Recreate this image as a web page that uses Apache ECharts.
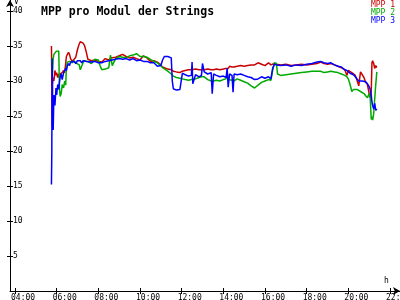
<!DOCTYPE html>
<html>
<head>
<meta charset="utf-8">
<script src="https://cdn.jsdelivr.net/npm/echarts@6/dist/echarts.min.js"></script>
<style>
html,body{margin:0;padding:0;background:#fff;overflow:hidden;}
#c{width:400px;height:300px;}
</style>
</head>
<body>
<div id="c"></div>
<script>
// ---- data ----
var times = [
"05:45","05:46","05:47","05:48","05:50","05:52","05:55","05:58","06:00","06:03","06:06","06:08","06:10","06:13","06:16","06:20","06:23","06:26","06:28","06:31","06:34","06:37","06:40","06:45","06:50","06:55","07:00","07:05","07:08","07:12","07:16","07:20","07:25","07:30",
"07:40","07:50","08:00","08:05","08:10","08:20","08:30","08:35","08:40","08:50","09:00","09:10","09:20","09:30","09:40","09:50","10:00","10:10","10:15","10:20","10:30","10:40","10:50","11:00","11:05","11:10","11:20","11:30","11:33","11:36","11:45","11:55","11:59",
"12:02","12:10","12:20","12:28","12:30","12:32","12:40","12:50","12:57","13:00","13:05","13:15","13:25","13:28","13:32","13:40","13:50","14:00","14:08","14:11","14:14","14:18","14:25","14:28","14:31","14:40","14:50",
"15:00","15:10","15:20","15:30","15:40","15:50","16:00","16:10","16:17","16:22","16:27","16:33","16:36","16:45","17:00","17:15","17:30","17:45","18:00","18:15","18:30","18:40","18:50","19:00","19:10","19:20","19:30","19:40","19:45","19:50","19:53","19:56",
"20:00","20:05","20:10","20:15","20:20","20:25","20:30","20:35","20:40","20:45","20:50","20:55","21:00","21:03","21:06","21:08","21:10","21:13","21:16","21:19","21:22"
];
var mpp1 = [
35.0,30.0,23.5,29.5,30.5,30.0,31.5,30.8,31.2,30.5,31.0,30.5,31.0,30.8,31.2,31.5,31.2,32.5,33.5,33.8,34.1,33.8,33.2,32.8,33.0,33.4,34.5,35.3,35.6,35.6,35.4,35.1,34.2,33.1,
32.9,33.0,32.8,33.0,32.7,33.2,33.0,33.3,33.1,33.4,33.6,33.8,33.5,33.3,33.4,33.2,33.0,33.6,33.8,33.3,32.8,32.9,32.7,32.3,32.0,31.9,31.7,31.6,31.5,31.4,31.3,31.2,31.2,
31.4,31.5,31.6,31.6,31.7,31.6,31.7,31.6,31.6,31.7,31.6,31.7,31.6,31.5,31.6,31.7,31.6,31.7,31.8,31.9,31.8,32.1,32.0,32.1,32.0,32.1,32.2,
32.1,32.2,32.3,32.3,32.6,32.4,32.2,32.6,32.3,32.4,32.5,32.4,32.5,32.3,32.4,32.2,32.3,32.4,32.3,32.4,32.5,32.7,32.5,32.4,32.5,32.3,32.1,31.9,31.8,31.6,31.7,30.8,
31.5,31.4,31.2,31.0,30.8,30.1,29.3,31.3,31.5,30.5,29.8,29.5,28.2,27.6,28.5,32.6,32.9,32.5,31.8,32.2,31.9
];
var mpp2 = [
33.2,33.0,32.8,31.0,33.2,33.8,34.0,34.2,34.4,34.4,34.3,29.0,27.8,28.2,29.5,29.0,30.0,29.4,32.0,32.7,32.5,32.8,33.0,32.6,32.9,32.6,32.8,32.3,31.6,31.8,32.6,32.9,33.0,32.8,
32.5,33.1,33.0,32.2,31.6,31.7,31.9,33.7,32.2,33.2,33.5,33.4,33.3,33.6,33.7,33.9,33.5,33.5,33.7,33.4,33.1,32.8,32.6,32.2,31.9,31.8,31.4,31.0,30.9,30.7,30.5,30.4,30.4,
30.3,30.2,30.1,30.2,30.1,30.2,30.3,30.5,30.6,30.8,30.6,30.2,30.0,29.8,30.0,30.1,30.0,30.2,30.3,31.2,30.2,30.0,30.1,30.2,30.0,30.3,30.1,
29.9,29.7,29.3,29.0,29.4,29.8,30.0,30.2,30.1,31.5,32.6,32.5,31.0,30.8,30.9,31.0,31.1,31.2,31.3,31.4,31.4,31.4,31.2,31.3,31.4,31.3,31.2,31.0,30.9,30.8,30.7,30.6,
30.3,29.5,28.5,28.8,29.0,28.8,28.6,28.5,28.7,28.2,27.9,27.6,28.2,27.6,24.5,24.9,24.4,25.3,27.5,29.5,31.3
];
var mpp3 = [
15.2,19.8,33.2,27.0,23.0,28.0,26.5,29.0,28.0,29.5,28.8,29.8,30.5,31.0,30.2,31.2,31.5,31.8,31.5,32.2,32.5,32.2,32.7,32.5,32.8,32.5,32.9,32.7,32.9,32.6,32.9,32.7,32.8,32.6,
32.7,32.8,32.6,32.8,32.6,32.8,32.9,32.7,33.0,33.1,33.2,33.1,33.2,33.0,33.2,32.9,33.0,32.8,33.0,32.8,32.6,32.6,32.1,32.2,33.0,33.5,33.5,33.3,30.0,28.9,28.7,28.8,28.7,
31.1,30.9,30.7,30.8,32.7,29.6,30.9,30.6,30.8,32.5,31.3,31.0,31.2,28.2,31.0,30.8,30.6,30.7,30.5,31.8,29.1,31.0,30.8,28.4,31.0,30.9,31.0,
30.8,30.6,30.5,30.2,30.3,30.6,30.4,30.6,30.3,31.8,32.4,32.3,32.4,32.2,32.3,32.1,32.3,32.2,32.4,32.5,32.7,32.8,32.6,32.5,32.6,32.3,32.1,32.0,31.8,31.6,31.4,31.5,
31.3,31.1,31.2,30.9,30.6,30.3,30.0,29.9,30.0,30.2,29.9,29.6,29.2,28.8,28.0,27.0,26.5,26.0,26.8,25.8,26.0
];
var seriesNames = ["MPP 1","MPP 2","MPP 3"];
var xTickHours = [4,6,8,10,12,14,16,18,20,22];
var yTickValues = [5,10,15,20,25,30,35,40];
var titleText = "MPP pro Modul der Strings";

// ---- build ----
function toH(s){var p=s.split(":");return +p[0] + (+p[1])/60;}
function pair(arr){return times.map(function(t,i){return [toH(t), arr[i]];});}
function fmt(v){var h=Math.round(v);return (h<10?"0":"")+h+":00";}
var colors = ["#c80000","#00aa00","#0000ff"];
var FONT = "DejaVu Sans Mono";
var XMIN = 3.76, XMAX = 22.48, YMAX = 41.57;

var axisLineX = {show:true, lineStyle:{color:"#000",width:1}, symbol:["none","arrow"], symbolSize:[6,7]};
var axisLineY = {show:true, lineStyle:{color:"#000",width:1}, symbol:["none","arrow"], symbolSize:[6,7]};

var chart = echarts.init(document.getElementById("c"), null, {renderer:"canvas"});
chart.setOption({
  animation:false,
  backgroundColor:"#fff",
  title:{text:titleText,left:36,top:1,textStyle:{fontFamily:FONT,fontWeight:"bold",fontSize:11.5,color:"#000"}},
  grid:{left:10,right:0,top:0,bottom:9,containLabel:false,outerBoundsMode:"none"},
  xAxis:[
    {type:"value",min:XMIN,max:XMAX,axisLine:axisLineX,
     axisTick:{show:true,inside:false,length:3,customValues:xTickHours,lineStyle:{color:"#000"}},
     axisLabel:{show:true,customValues:xTickHours,formatter:fmt,align:"left",margin:3,padding:[0,0,0,-4],
       fontFamily:FONT,fontSize:8,color:"#000"},
     splitLine:{show:false}},
    {type:"value",min:XMIN,max:XMAX,position:"bottom",axisLine:{show:false},
     axisTick:{show:true,inside:true,length:3,customValues:xTickHours,lineStyle:{color:"#000"}},
     axisLabel:{show:false},splitLine:{show:false}}
  ],
  yAxis:[
    {type:"value",min:0,max:YMAX,axisLine:axisLineY,
     axisTick:{show:true,inside:false,length:3,customValues:yTickValues,lineStyle:{color:"#000"}},
     axisLabel:{show:true,inside:true,customValues:yTickValues,margin:3,
       fontFamily:FONT,fontSize:8,color:"#000"},
     splitLine:{show:false}},
    {type:"value",min:0,max:YMAX,position:"left",axisLine:{show:false},
     axisTick:{show:true,inside:true,length:3,customValues:yTickValues,lineStyle:{color:"#000"}},
     axisLabel:{show:false},splitLine:{show:false}}
  ],
  graphic:[
    {type:"text",left:14,top:-2,style:{text:"V",font:"8px "+FONT,fill:"#000"}},
    {type:"text",left:384,top:277,style:{text:"h",font:"8px "+FONT,fill:"#000"}},
    {type:"text",right:5,top:1,style:{text:seriesNames[0],font:"8px "+FONT,fill:colors[0]}},
    {type:"text",right:5,top:9,style:{text:seriesNames[1],font:"8px "+FONT,fill:colors[1]}},
    {type:"text",right:5,top:17,style:{text:seriesNames[2],font:"8px "+FONT,fill:colors[2]}}
  ],
  series:[
    {name:seriesNames[0],type:"line",data:pair(mpp1),showSymbol:false,lineStyle:{color:colors[0],width:1.5},itemStyle:{color:colors[0]}},
    {name:seriesNames[1],type:"line",data:pair(mpp2),showSymbol:false,lineStyle:{color:colors[1],width:1.5},itemStyle:{color:colors[1]}},
    {name:seriesNames[2],type:"line",data:pair(mpp3),showSymbol:false,lineStyle:{color:colors[2],width:1.5},itemStyle:{color:colors[2]}}
  ]
});
</script>
</body>
</html>
